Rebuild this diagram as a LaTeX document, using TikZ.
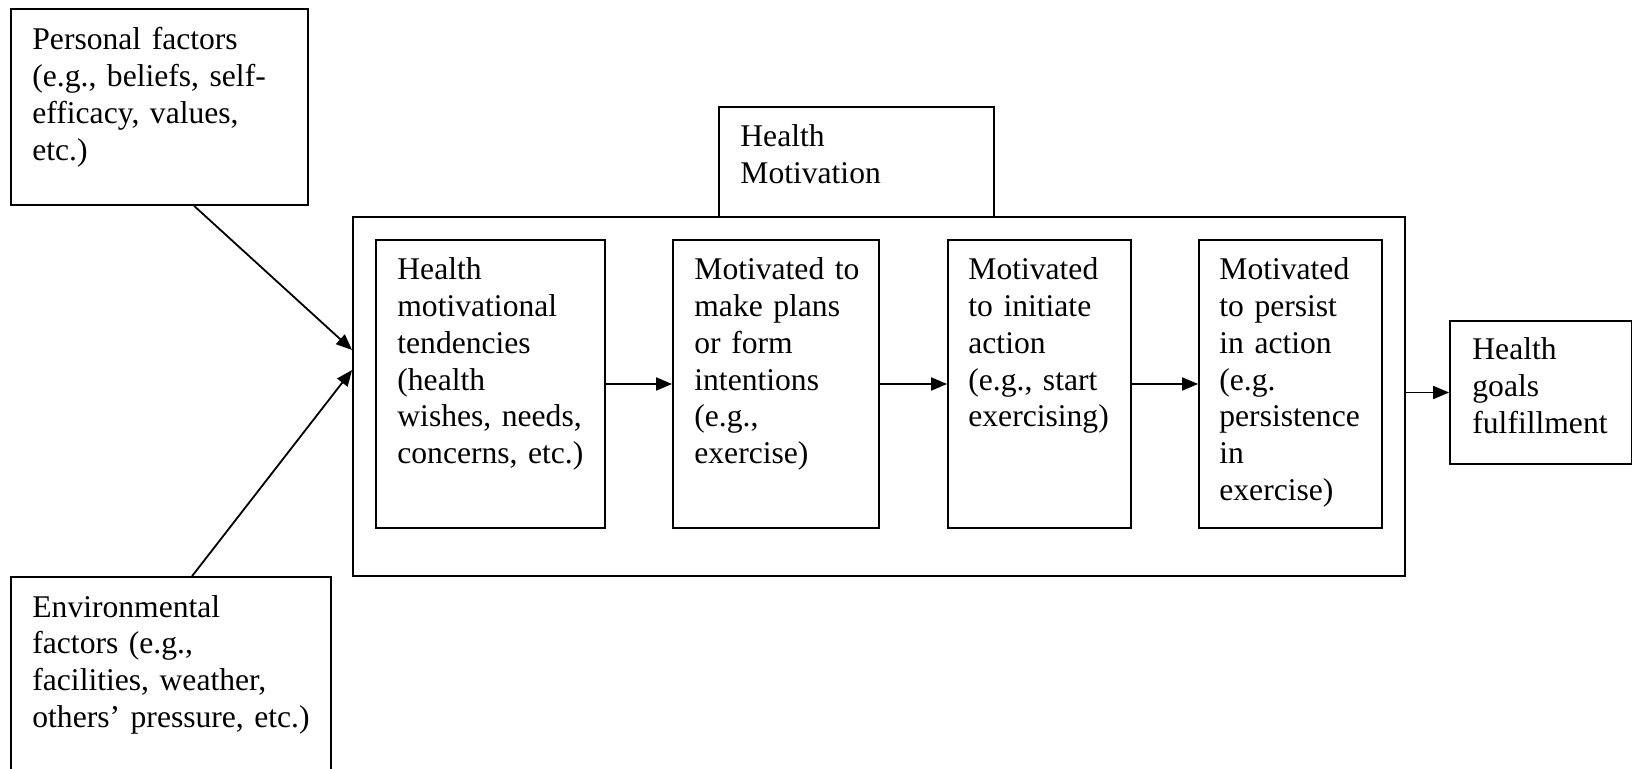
\documentclass[tikz,border=0pt]{standalone}
\usepackage{fontspec}
\setmainfont{Liberation Serif}
\usetikzlibrary{fit,arrows.meta}
\tikzset{
  box/.style={draw, line width=0.9pt, inner sep=0pt},
  txt/.style={anchor=base west, align=left, text width=200pt, inner sep=0pt,
              font=\fontsize{15.8pt}{18.35pt}\selectfont},
  arr/.style={line width=0.9pt, -{Triangle[length=8pt,width=6.5pt]}}
}
\begin{document}
\begin{tikzpicture}[x=0.5pt,y=-0.5pt]
\useasboundingbox (0,0) rectangle (1632,769);
\clip (0,0) rectangle (1632,769);
\fill[white] (0,0) rectangle (1632,769);

% outer boxes
\node[box, fit={(11,9) (308,205)}] (p) {};
\node[box, fit={(11,577) (331,800)}] (e) {};
\node[box, fit={(353,217) (1405,576)}] (cont) {};
\node[box, fit={(719,107) (994,217)}] (hm) {};
\node[box, fit={(1450,321) (1632,464)}] (g) {};

% inner boxes
\node[box, fit={(376,240) (605,528)}] (b1) {};
\node[box, fit={(673,240) (879,528)}] (b2) {};
\node[box, fit={(948,240) (1131,528)}] (b3) {};
\node[box, fit={(1199,240) (1382,528)}] (b4) {};

% texts
\node[txt] (pt) at (32,50) {Personal factors\\(e.g., beliefs, self-\\efficacy, values,\\etc.)};
\node[txt] (et) at (32,617) {Environmental\\factors (e.g.,\\facilities, weather,\\others’ pressure, etc.)};
\node[txt] (hmt) at (740,147) {Health\\Motivation};
\node[txt] (t1) at (397,280) {Health\\motivational\\tendencies\\(health\\wishes, needs,\\concerns, etc.)};
\node[txt] (t2) at (694,280) {Motivated to\\make plans\\or form\\intentions\\(e.g.,\\exercise)};
\node[txt] (t3) at (968,280) {Motivated\\to initiate\\action\\(e.g., start\\exercising)};
\node[txt] (t4) at (1219,280) {Motivated\\to persist\\in action\\(e.g.\\persistence\\in\\exercise)};
\node[txt] (gt) at (1472,360) {Health\\goals\\fulfillment};

% connectors
\draw[arr] ([xshift=92pt]p.south west) -- ([yshift=23.25pt]cont.west);
\draw[arr] ([xshift=91pt]e.north west) -- ([yshift=13.25pt]cont.west);
\draw[arr] (b1.east) -- (b2.west);
\draw[arr] (b2.east) -- (b3.west);
\draw[arr] (b3.east) -- (b4.west);
\draw[arr] (cont.east |- g.west) -- (g.west);
\end{tikzpicture}
\end{document}
